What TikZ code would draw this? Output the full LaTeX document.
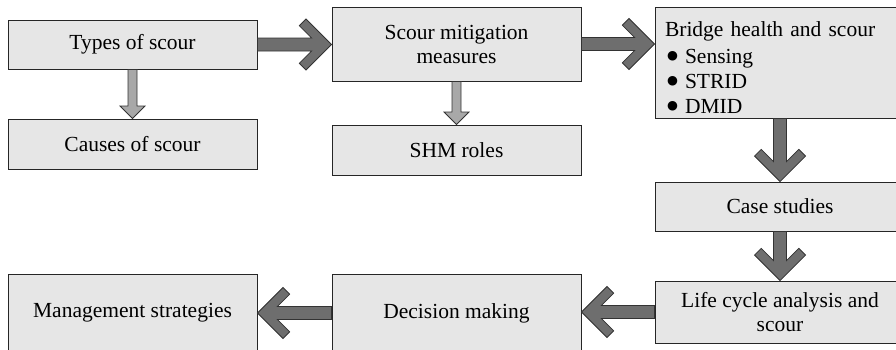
\documentclass[tikz,border=0pt]{standalone}
\usepackage{fontspec}
\setmainfont{Liberation Serif}
\newfontfamily\symfont{DejaVu Sans}
\usetikzlibrary{calc}
\definecolor{boxfill}{HTML}{E6E6E6}
\definecolor{darkfill}{HTML}{6E6E6E}
\definecolor{lightfill}{HTML}{A8A8A8}
\newcommand\arrowsetup[2]{%
  \path let \p1=(#1), \p2=(#2) in \pgfextra{%
    \pgfmathparse{atan2(\y2-\y1,\x2-\x1)}\xdef\arrang{\pgfmathresult}%
    \pgfmathparse{veclen(\x2-\x1,\y2-\y1)}\xdef\arrlen{\pgfmathresult}};}
\newcommand\chevarrow[2]{%
  \arrowsetup{#1}{#2}%
  \filldraw[darkarr,shift={(#2)},rotate=\arrang]
    (0,0) -- (-25.5,25.5) -- (-32.2,18.8) -- (-19.9,6.5) -- (-\arrlen,6.5)
    -- (-\arrlen,-6.5) -- (-19.9,-6.5) -- (-32.2,-18.8) -- (-25.5,-25.5) -- cycle;}
\newcommand\blockarrow[2]{%
  \arrowsetup{#1}{#2}%
  \filldraw[lightarr,shift={(#2)},rotate=\arrang]
    (0,0) -- (-12.5,12.5) -- (-12.5,4.5) -- (-\arrlen,4.5)
    -- (-\arrlen,-4.5) -- (-12.5,-4.5) -- (-12.5,-12.5) -- cycle;}
\newcommand\bulitem[1]{\hspace*{2pt}\makebox[18pt][l]{\raisebox{3.5pt}{\symfont\fontsize{12.5}{12}\selectfont ●}}#1}
\begin{document}
\begin{tikzpicture}[x=1pt,y=-1pt,line join=miter,
  box/.style={draw=black!85,line width=0.9pt,fill=boxfill,inner sep=0pt,
    align=center,font=\fontsize{21.5}{24}\selectfont},
  darkarr/.style={fill=darkfill,draw=black!80,line width=0.8pt},
  lightarr/.style={fill=lightfill,draw=black!80,line width=0.8pt}]
  \useasboundingbox (0,0) rectangle (896,349);
  \node[box,minimum width=249,minimum height=49] (types) at (132.5,44.5) {Types of scour};
  \node[box,minimum width=249,minimum height=50] (causes) at (132.5,144) {Causes of scour};
  \node[box,minimum width=249,minimum height=74] (mitig) at (456.5,44) {Scour mitigation\\measures};
  \node[box,minimum width=249,minimum height=50] (shm) at (456.5,150) {SHM roles};
  \node[box,minimum width=250,minimum height=111,text width=230,align=left] (bridge) at (780,62.5)
    {\rule{0pt}{25pt}Bridge health and scour\\[3pt]
     \bulitem{Sensing}\\[1pt]
     \bulitem{STRID}\\[1pt]
     \bulitem{DMID}};
  \node[box,minimum width=250,minimum height=49] (case) at (780,206.5) {Case studies};
  \node[box,minimum width=250,minimum height=62] (life) at (780,312) {Life cycle analysis and\\scour};
  \node[box,minimum width=249,minimum height=78] (decision) at (456.5,313) {Decision making};
  \node[box,minimum width=249,minimum height=78] (mgmt) at (132.5,313) {Management strategies};
  \chevarrow{types.east}{mitig.west |- types.east}
  \chevarrow{mitig.east}{bridge.west |- mitig.east}
  \chevarrow{bridge.south}{case.north}
  \chevarrow{case.south}{life.north}
  \chevarrow{life.west}{decision.east |- life.west}
  \chevarrow{decision.west}{mgmt.east}
  \blockarrow{types.south}{causes.north}
  \blockarrow{mitig.south}{shm.north}
\end{tikzpicture}
\end{document}
